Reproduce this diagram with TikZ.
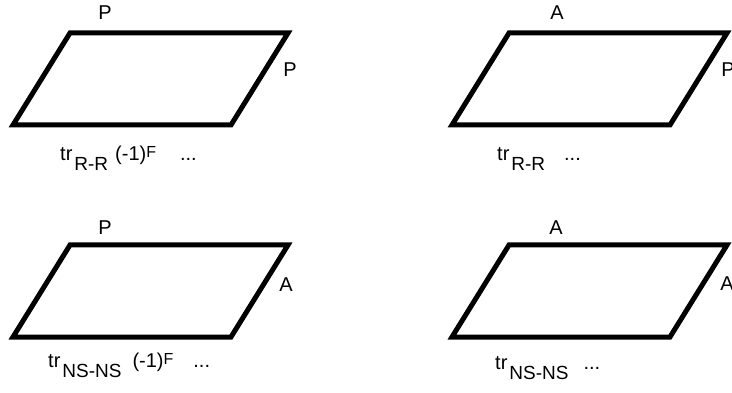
\documentclass[tikz,border=0pt]{standalone}
\usepackage{fontspec}
\setmainfont{Liberation Sans}
\usetikzlibrary{positioning,calc}
\tikzset{
  cell/.style    ={draw, line width=5pt, line join=miter},
  edgelbl/.style ={inner sep=0pt, font=\fontsize{20}{20}\selectfont},
  tracelbl/.style={inner sep=0pt, anchor=base west,
                   font=\fontsize{20}{20}\selectfont},
}
\newcommand{\lowtext}[1]{\hspace{2pt}\raisebox{-10pt}{\fontsize{19}{19}\selectfont #1}}
\newcommand{\hightext}[1]{\raisebox{3pt}{\fontsize{16}{16}\selectfont #1}}

\begin{document}
\begin{tikzpicture}[x=1pt,y=-1pt]
  \useasboundingbox (0,0) rectangle (732,393);
  % R-R sector
  \draw[cell] (70,33) -- (288,33) -- (231,125) -- (13,125) -- cycle;
  \node[edgelbl] (ppt) at (105,13) {P};
  \node[edgelbl] (pps) at (290,70) {P};
  \node[tracelbl] (pptr) at (60,161)
    {tr\lowtext{R-R}\hspace{7pt}(-1)\hightext{F}\hspace{24pt}...};
  \draw[cell] (509,33) -- (727,33) -- (670,125) -- (452,125) -- cycle;
  \node[edgelbl] (apt) at (557,13) {A};
  \node[edgelbl] (aps) at (728,70) {P};
  \node[tracelbl] (aptr) at (497,161) {tr\lowtext{R-R}\hspace{19pt}...};
  % NS-NS sector
  \draw[cell] (70,245) -- (288,245) -- (231,337) -- (13,337) -- cycle;
  \node[edgelbl] (pat) at (105,228) {P};
  \node[edgelbl] (pas) at (286,285) {A};
  \node[tracelbl] (patr) at (48,367)
    {tr\lowtext{NS-NS}\hspace{11pt}(-1)\hightext{F}\hspace{20pt}...};
  \draw[cell] (509,245) -- (727,245) -- (670,337) -- (452,337) -- cycle;
  \node[edgelbl] (aat) at (556,228) {A};
  \node[edgelbl] (aas) at (727,284) {A};
  \node[tracelbl] (aatr) at (495,369) {tr\lowtext{NS-NS}\hspace{15pt}...};
\end{tikzpicture}
\end{document}
